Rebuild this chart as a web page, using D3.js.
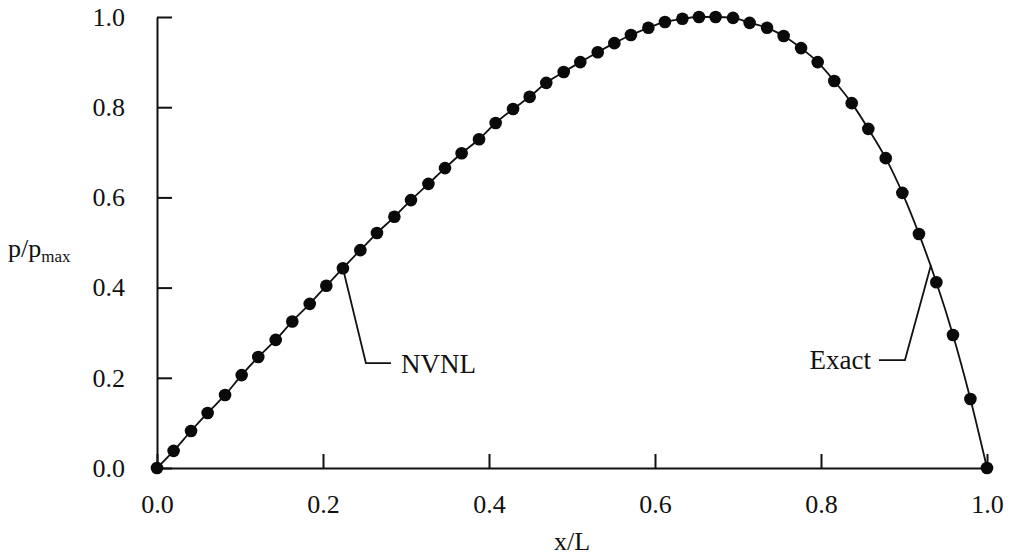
<!DOCTYPE html>
<html>
<head>
<meta charset="utf-8">
<script src="https://cdn.jsdelivr.net/npm/d3@7"></script>
<style>
    html, body { margin: 0; padding: 0; background: #ffffff; }
    svg { display: block; }
    text { font-family: "Liberation Serif", "Times New Roman", serif; fill: #111; }
</style>
</head>
<body>
<svg id="chart" width="1013" height="559"></svg>
<script>
// Data (x/L and p/pmax at each node)
const xValues = [
    0.000, 0.020, 0.041, 0.061, 0.082, 0.102, 0.122, 0.143, 0.163, 0.184,
    0.204, 0.224, 0.245, 0.265, 0.286, 0.306, 0.327, 0.347, 0.367, 0.388,
    0.408, 0.429, 0.449, 0.469, 0.490, 0.510, 0.531, 0.551, 0.571, 0.592,
    0.612, 0.633, 0.653, 0.673, 0.694, 0.714, 0.735, 0.755, 0.776, 0.796,
    0.816, 0.837, 0.857, 0.878, 0.898, 0.918, 0.939, 0.959, 0.980, 1.000
];
const nvnlValues = [
    0.000, 0.038, 0.082, 0.122, 0.162, 0.206, 0.246, 0.284, 0.325, 0.364,
    0.404, 0.443, 0.483, 0.521, 0.557, 0.594, 0.630, 0.665, 0.698, 0.729,
    0.765, 0.796, 0.823, 0.854, 0.878, 0.900, 0.922, 0.942, 0.960, 0.976,
    0.989, 0.996, 1.000, 1.000, 0.998, 0.987, 0.976, 0.958, 0.931, 0.900,
    0.858, 0.809, 0.752, 0.687, 0.610, 0.519, 0.412, 0.295, 0.153, 0.000
];
// Exact solution drawn as a line through the same values
const exactValues = nvnlValues.slice();

const xTicks = [0, 0.2, 0.4, 0.6, 0.8, 1.0];
const yTicks = [0, 0.2, 0.4, 0.6, 0.8, 1.0];

const svg = d3.select('#chart');

// Scales
const x = d3.scaleLinear().domain([0, 1]).range([157, 987]);
const y = d3.scaleLinear().domain([0, 1]).range([468, 17]);

// X axis (ticks point inward)
const xAxis = svg.append('g')
    .attr('transform', `translate(0,${y(0)})`)
    .call(d3.axisBottom(x)
        .tickValues(xTicks)
        .tickSizeInner(-14)
        .tickSizeOuter(0)
        .tickPadding(27)
        .tickFormat(d3.format('.1f')));

// Y axis (ticks point inward)
const yAxis = svg.append('g')
    .attr('transform', `translate(${x(0)},0)`)
    .call(d3.axisLeft(y)
        .tickValues(yTicks)
        .tickSizeInner(-15)
        .tickSizeOuter(0)
        .tickPadding(32)
        .tickFormat(d3.format('.1f')));

[xAxis, yAxis].forEach(g => {
    g.select('.domain').attr('stroke', '#111').attr('stroke-width', 2);
    g.selectAll('.tick line').attr('stroke', '#111').attr('stroke-width', 2);
    g.selectAll('.tick text')
        .attr('font-size', '26px')
        .attr('font-family', '"Liberation Serif", "Times New Roman", serif')
        .attr('fill', '#111');
});

// Axis titles
svg.append('text')
    .attr('x', x(0.5))
    .attr('y', 550)
    .attr('text-anchor', 'middle')
    .attr('font-size', '26px')
    .text('x/L');

const yTitle = svg.append('text')
    .attr('x', 8)
    .attr('y', 257)
    .attr('font-size', '26px');
yTitle.append('tspan').text('p/p');
yTitle.append('tspan')
    .attr('font-size', '17px')
    .attr('dy', 5)
    .text('max');

// Exact line
const points = xValues.map((v, i) => ({ x: v, nvnl: nvnlValues[i], exact: exactValues[i] }));

const line = d3.line()
    .x(d => x(d.x))
    .y(d => y(d.exact))
    .curve(d3.curveMonotoneX);

svg.append('path')
    .datum(points)
    .attr('d', line)
    .attr('fill', 'none')
    .attr('stroke', '#111')
    .attr('stroke-width', 1.8);

// NVNL dots
svg.selectAll('.dot')
    .data(points)
    .enter()
    .append('circle')
    .attr('class', 'dot')
    .attr('cx', d => x(d.x))
    .attr('cy', d => y(d.nvnl))
    .attr('r', 6.3)
    .attr('fill', '#0a0a0a');

// Leader for NVNL label, from one of the dots
const nvnlAnchor = points[11];
const ax = x(nvnlAnchor.x), ay = y(nvnlAnchor.nvnl);
svg.append('path')
    .attr('d', `M${ax},${ay} L${ax + 23},${ay + 95} L${ax + 48},${ay + 95}`)
    .attr('fill', 'none')
    .attr('stroke', '#111')
    .attr('stroke-width', 1.8);
svg.append('text')
    .attr('x', ax + 58)
    .attr('y', ay + 105)
    .attr('font-size', '27px')
    .text('NVNL');

// Leader for Exact label, from the line
const exactAnchor = { x: 0.9325, y: 0.45 };
const ex = x(exactAnchor.x), ey = y(exactAnchor.y);
svg.append('path')
    .attr('d', `M${ex},${ey} L${ex - 26},${ey + 95} L${ex - 52},${ey + 95}`)
    .attr('fill', 'none')
    .attr('stroke', '#111')
    .attr('stroke-width', 1.8);
svg.append('text')
    .attr('x', ex - 60)
    .attr('y', ey + 104)
    .attr('text-anchor', 'end')
    .attr('font-size', '27px')
    .text('Exact');
</script>
</body>
</html>
